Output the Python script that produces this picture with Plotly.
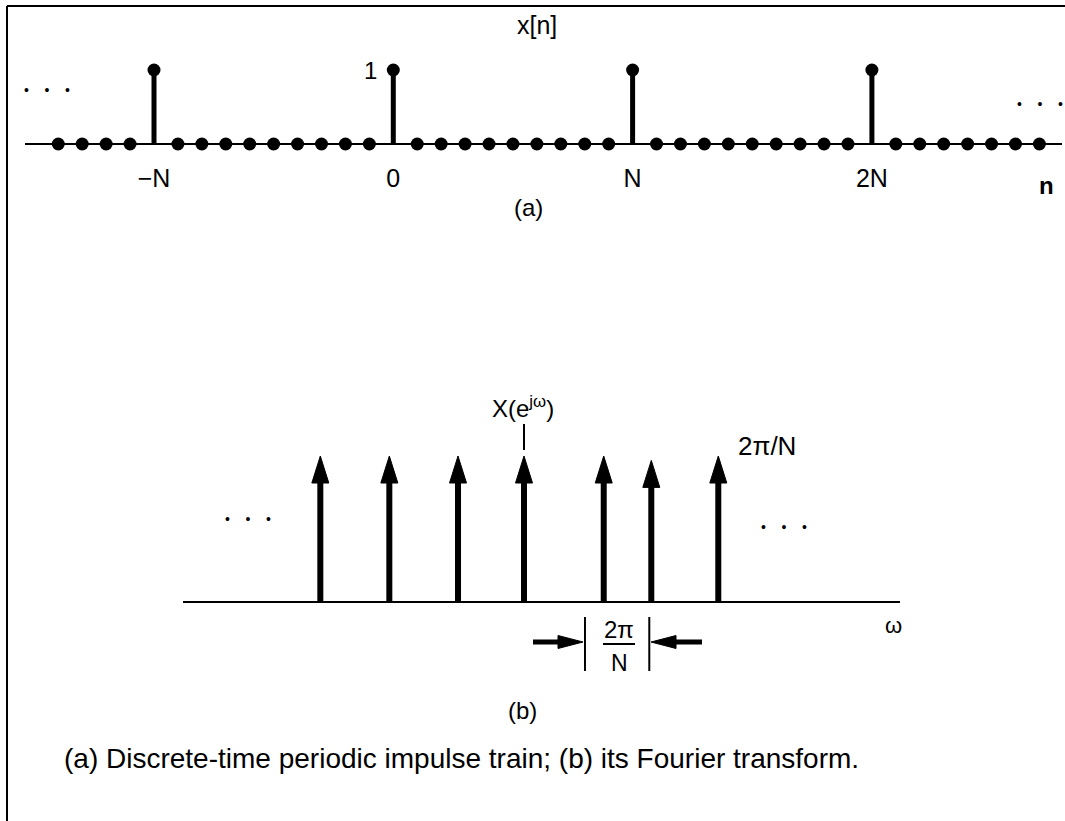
import plotly.graph_objects as go

W, H = 1065, 821

# ---------------- data: (a) periodic impulse train x[n] (N = 10 samples per period)
n_values = [-14, -13, -12, -11, -10, -9, -8, -7, -6, -5, -4, -3, -2, -1,
            0, 1, 2, 3, 4, 5, 6, 7, 8, 9, 10, 11, 12, 13, 14, 15, 16, 17,
            18, 19, 20, 21, 22, 23, 24, 25, 26, 27]
x_values = [0, 0, 0, 0, 1, 0, 0, 0, 0, 0, 0, 0, 0, 0,
            1, 0, 0, 0, 0, 0, 0, 0, 0, 0, 1, 0, 0, 0, 0, 0, 0, 0,
            0, 0, 1, 0, 0, 0, 0, 0, 0, 0]
n_tick_values = [-10, 0, 10, 20]
n_tick_text = ["\u2212N", "0", "N", "2N"]

# ---------------- data: (b) Fourier transform X(e^{jw}) (omega in units of 2pi/N, as drawn)
omega_values = [-3.04, -2.01, -0.985, 0.0, 1.19, 1.90, 2.90]
X_values = [1.0, 1.0, 1.0, 1.0, 1.0, 0.97, 1.0]
spacing_marks = [0.91, 1.87]

# ---------------- layout geometry (pixels)
TOP_N0, TOP_STEP, TOP_AX_Y, TOP_UNIT = 393.3, 23.93, 144.0, 74.0
TOP_L, TOP_R = 25, 1062
BOT_W0, BOT_STEP, BOT_AX_Y, BOT_UNIT = 524.0, 67.0, 602.0, 146.0
BOT_L, BOT_R = 183, 900


def tx(px):
    return (px - TOP_N0) / TOP_STEP


def ty(py):
    return (TOP_AX_Y - py) / TOP_UNIT


def bx(px):
    return (px - BOT_W0) / BOT_STEP


def by(py):
    return (BOT_AX_Y - py) / BOT_UNIT


fig = go.Figure()

# ---- (a) stems
stem_x, stem_y = [], []
for n, v in zip(n_values, x_values):
    if v:
        stem_x += [n, n, None]
        stem_y += [0, v, None]
fig.add_trace(go.Scatter(x=stem_x, y=stem_y, mode="lines",
                         line=dict(color="black", width=5),
                         xaxis="x", yaxis="y", hoverinfo="skip"))
fig.add_trace(go.Scatter(x=n_values, y=x_values, mode="markers",
                         marker=dict(color="black", size=13),
                         xaxis="x", yaxis="y"))

# ---- (b) impulse arrows
HL = 27 / BOT_UNIT          # head length (data units)
HW = 8.5 / BOT_STEP         # half head width (data units)
shaft_x, shaft_y, head_x, head_y = [], [], [], []
for w, v in zip(omega_values, X_values):
    shaft_x += [w, w, None]
    shaft_y += [0, v - HL * 0.6, None]
    head_x += [w - HW, w, w + HW, w - HW, None]
    head_y += [v - HL, v, v - HL, v - HL, None]
fig.add_trace(go.Scatter(x=shaft_x, y=shaft_y, mode="lines",
                         line=dict(color="black", width=6),
                         xaxis="x2", yaxis="y2", hoverinfo="skip"))
fig.add_trace(go.Scatter(x=head_x, y=head_y, mode="lines", fill="toself",
                         fillcolor="black", line=dict(color="black", width=1),
                         xaxis="x2", yaxis="y2", hoverinfo="skip"))

# ---- dimension arrows for 2pi/N spacing
dim_y = by(642)
dhl = 25 / BOT_STEP
dhw = 6.5 / BOT_UNIT
left_tip, right_tip = bx(583), bx(651)
dim_shaft_x = [bx(533), left_tip - dhl * 0.7, None, right_tip + dhl * 0.7, bx(702), None]
dim_shaft_y = [dim_y, dim_y, None, dim_y, dim_y, None]
dim_head_x = [left_tip - dhl, left_tip, left_tip - dhl, left_tip - dhl, None,
              right_tip + dhl, right_tip, right_tip + dhl, right_tip + dhl, None]
dim_head_y = [dim_y + dhw, dim_y, dim_y - dhw, dim_y + dhw, None,
              dim_y + dhw, dim_y, dim_y - dhw, dim_y + dhw, None]
fig.add_trace(go.Scatter(x=dim_shaft_x, y=dim_shaft_y, mode="lines",
                         line=dict(color="black", width=5),
                         xaxis="x2", yaxis="y2", hoverinfo="skip"))
fig.add_trace(go.Scatter(x=dim_head_x, y=dim_head_y, mode="lines", fill="toself",
                         fillcolor="black", line=dict(color="black", width=1),
                         xaxis="x2", yaxis="y2", hoverinfo="skip"))

shapes = [
    # figure frame (top and left edges of the scanned box)
    dict(type="line", xref="paper", yref="paper", x0=7 / W, x1=1, y0=1 - 6 / H, y1=1 - 6 / H,
         line=dict(color="black", width=2)),
    dict(type="line", xref="paper", yref="paper", x0=7 / W, x1=7 / W, y0=0, y1=1 - 6 / H,
         line=dict(color="black", width=2)),
    # pointer line to X(e^jw)
    dict(type="line", xref="x2", yref="y2", x0=omega_values[3], x1=omega_values[3],
         y0=by(450), y1=by(424), line=dict(color="black", width=2)),
    # fraction bar of 2pi/N
    dict(type="line", xref="paper", yref="paper", x0=603 / W, x1=635 / W,
         y0=1 - 644 / H, y1=1 - 644 / H, line=dict(color="black", width=2)),
]
for m in spacing_marks:
    shapes.append(dict(type="line", xref="x2", yref="y2", x0=m, x1=m, y0=by(617), y1=by(671),
                       line=dict(color="black", width=2)))

FONT = "Liberation Sans"


def ann(text, px, py, size, xanchor="center", family=FONT, **kw):
    return dict(text=text, x=px / W, y=1 - py / H, xref="paper", yref="paper",
                xanchor=xanchor, yanchor="middle", showarrow=False,
                font=dict(family=family, size=size, color="black"), **kw)


DOTS = "\u2022    \u2022    \u2022"
annotations = [
    ann("x[n]", 537, 25, 25),
    ann("1", 379, 70, 24, xanchor="right"),
    ann("<b>n</b>", 1046, 186, 24),
    ann("(a)", 528, 207, 24),
    ann("X(e<sup>j\u03c9</sup>)", 523, 407, 24),
    ann("2\u03c0/N", 767, 446, 26),
    ann("\u03c9", 893, 625, 22),
    ann("2\u03c0", 619, 629, 24),
    ann("N", 619, 663, 23),
    ann("(b)", 522, 710, 24),
    ann(DOTS, 47, 90, 14),
    ann(DOTS, 1040, 104, 14),
    ann(DOTS, 248, 519, 14),
    ann(DOTS, 784, 527, 14),
    ann("(a) Discrete-time periodic impulse train; (b) its Fourier transform.",
        62, 758, 28, xanchor="left"),
]

fig.update_layout(
    width=W, height=H, margin=dict(l=0, r=0, t=0, b=0),
    paper_bgcolor="white", plot_bgcolor="rgba(0,0,0,0)",
    showlegend=False,
    xaxis=dict(domain=[TOP_L / W, TOP_R / W], range=[tx(TOP_L), tx(TOP_R)],
               anchor="free", position=1 - TOP_AX_Y / H,
               showline=True, linecolor="black", linewidth=2,
               showgrid=False, zeroline=False,
               tickmode="array", tickvals=n_tick_values, ticktext=n_tick_text,
               ticks="", ticklabelstandoff=12,
               tickfont=dict(family=FONT, size=25, color="black")),
    yaxis=dict(domain=[0, 1], range=[ty(H), ty(0)], visible=False, anchor="x"),
    xaxis2=dict(domain=[BOT_L / W, BOT_R / W], range=[bx(BOT_L), bx(BOT_R)],
                anchor="free", position=1 - BOT_AX_Y / H,
                showline=True, linecolor="black", linewidth=2,
                showgrid=False, zeroline=False, showticklabels=False, ticks=""),
    yaxis2=dict(domain=[0, 1], range=[by(H), by(0)], visible=False, anchor="x2"),
    shapes=shapes,
    annotations=annotations,
)

fig.write_html("out.html")
